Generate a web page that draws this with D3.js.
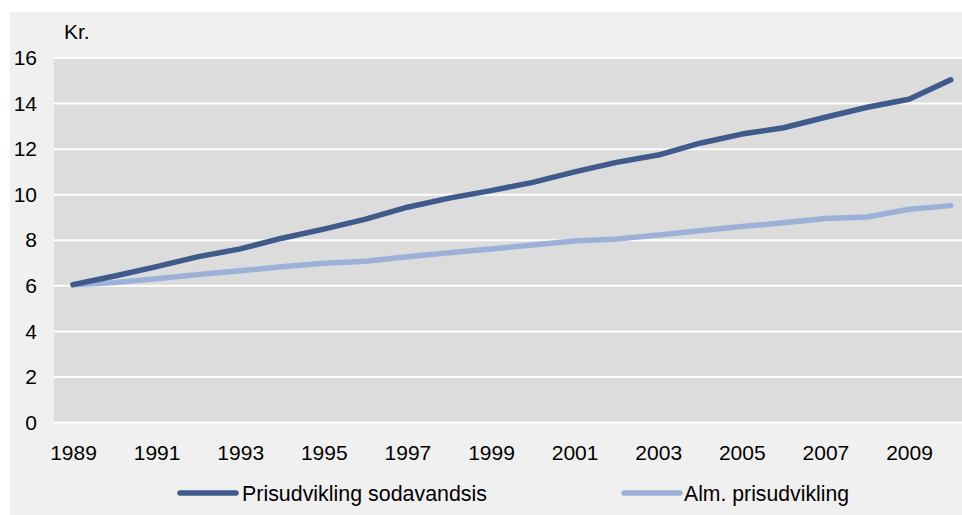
<!DOCTYPE html>
<html>
<head>
<meta charset="utf-8">
<script src="https://cdn.jsdelivr.net/npm/d3@7"></script>
<style>
  html, body { margin: 0; padding: 0; background: #ffffff; }
  svg { display: block; font-family: "Liberation Sans", Arial, sans-serif; }
</style>
</head>
<body>
<svg id="chart" width="962" height="515"></svg>
<script>
// Price development, soft-drink tax vs. general price level (kr.)
const years = d3.range(1989, 2011);
const sodaTax = [6.05, 6.43, 6.84, 7.28, 7.62, 8.09, 8.49, 8.93, 9.45, 9.85, 10.18, 10.54,
                 11.0, 11.42, 11.74, 12.26, 12.66, 12.94, 13.4, 13.84, 14.19, 15.04];
const general = [6.05, 6.14, 6.31, 6.5, 6.66, 6.84, 6.99, 7.08, 7.28, 7.45, 7.62, 7.79,
                 7.97, 8.05, 8.23, 8.42, 8.6, 8.77, 8.95, 9.02, 9.36, 9.52];
const yTicks = [0, 2, 4, 6, 8, 10, 12, 14, 16];
const xTickYears = [1989, 1991, 1993, 1995, 1997, 1999, 2001, 2003, 2005, 2007, 2009];
const seriesNames = ["Prisudvikling sodavandsis", "Alm. prisudvikling"];
const seriesColors = ["#3e5b8c", "#9db1d8"];

const FONT = 21;
const svg = d3.select("#chart");

// outer panel
svg.append("rect").attr("x", 10).attr("y", 12).attr("width", 952).attr("height", 503)
  .attr("fill", "#f0f0f0");

const plot = { left: 54, right: 962, top: 58, bottom: 422.5 };

const x = d3.scaleLinear().domain([1989, 2010]).range([73, 950.8]);
const y = d3.scaleLinear().domain([0, 16]).range([plot.bottom, plot.top]);

// plot background
svg.append("rect")
  .attr("x", plot.left).attr("y", plot.top)
  .attr("width", plot.right - plot.left).attr("height", plot.bottom - plot.top)
  .attr("fill", "#dcdcdc");

// horizontal gridlines
svg.append("g").selectAll("line").data(yTicks).join("line")
  .attr("x1", plot.left).attr("x2", plot.right)
  .attr("y1", d => y(d)).attr("y2", d => y(d))
  .attr("stroke", "#ffffff").attr("stroke-width", 2);

// y axis labels
const yAxis = d3.axisLeft(y).tickValues(yTicks).tickSize(0).tickPadding(0);
const gy = svg.append("g").attr("transform", "translate(37,0)").call(yAxis);
gy.select(".domain").remove();
gy.selectAll("text").attr("font-size", FONT).attr("fill", "#000")
  .attr("font-family", "Liberation Sans, Arial, sans-serif");

svg.append("text").attr("x", 64).attr("y", 39).attr("font-size", FONT).attr("fill", "#000")
  .text("Kr.");

// x axis labels
const xAxis = d3.axisBottom(x).tickValues(xTickYears).tickFormat(d3.format("d"))
  .tickSize(0).tickPadding(0);
const gx = svg.append("g").attr("transform", "translate(0,445)").call(xAxis);
gx.select(".domain").remove();
gx.selectAll("text").attr("font-size", FONT).attr("fill", "#000")
  .attr("font-family", "Liberation Sans, Arial, sans-serif");

// lines (general first so the soft-drink tax line sits on top)
const line = d3.line().x((d, i) => x(years[i])).y(d => y(d));
[[general, 1], [sodaTax, 0]].forEach(([vals, k]) => {
  svg.append("path").datum(vals)
    .attr("d", line)
    .attr("fill", "none")
    .attr("stroke", seriesColors[k])
    .attr("stroke-width", 5.5)
    .attr("stroke-linecap", "round")
    .attr("stroke-linejoin", "round");
});

// legend
const legendItems = [
  { x: 180, textX: 242, width: 245 },
  { x: 624, textX: 684, width: 165 }
];
legendItems.forEach((it, k) => {
  svg.append("line")
    .attr("x1", it.x).attr("x2", it.x + 56)
    .attr("y1", 493).attr("y2", 493)
    .attr("stroke", seriesColors[k]).attr("stroke-width", 5.5)
    .attr("stroke-linecap", "round");
  svg.append("text")
    .attr("x", it.textX).attr("y", 501)
    .attr("font-size", 22).attr("fill", "#000")
    .attr("textLength", it.width).attr("lengthAdjust", "spacingAndGlyphs")
    .text(seriesNames[k]);
});
</script>
</body>
</html>
